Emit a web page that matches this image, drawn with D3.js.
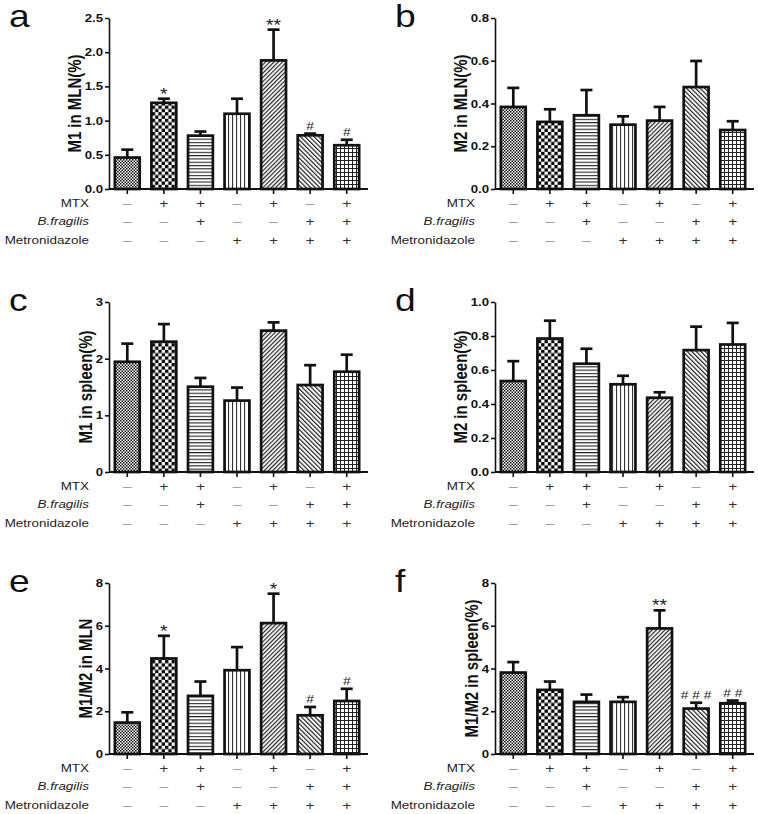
<!DOCTYPE html>
<html><head><meta charset="utf-8">
<script src="https://cdn.jsdelivr.net/npm/d3@7/dist/d3.min.js"></script>
<style>
html,body{margin:0;padding:0;background:#fff;}
svg{display:block;font-family:"Liberation Sans",Arial,sans-serif;}
</style></head>
<body>
<svg id="chart" width="758" height="814"></svg>
<script>
// ---------- DATA ----------
const groups = ["G1","G2","G3","G4","G5","G6","G7"];
const mtx           = ["-","+","+","-","+","-","+"];
const bFragilis     = ["-","-","+","-","-","+","+"];
const metronidazole = ["-","-","-","+","+","+","+"];
const rowLabels = ["MTX","B.fragilis","Metronidazole"];

const aMean = [0.46,1.26,0.78,1.10,1.88,0.785,0.64];
const aErr  = [0.115,0.06,0.06,0.22,0.45,0.025,0.08];
const aSig  = ["","*","","","**","#","#"];
const aTicks = [0,0.5,1.0,1.5,2.0,2.5];

const bMean = [0.384,0.314,0.345,0.301,0.320,0.477,0.276];
const bErr  = [0.089,0.059,0.118,0.039,0.064,0.122,0.041];
const bSig  = ["","","","","","",""];
const bTicks = [0,0.2,0.4,0.6,0.8];

const cMean = [1.945,2.30,1.505,1.26,2.495,1.535,1.77];
const cErr  = [0.32,0.31,0.155,0.23,0.145,0.35,0.30];
const cSig  = ["","","","","","",""];
const cTicks = [0,1,2,3];

const dMean = [0.535,0.785,0.637,0.516,0.437,0.717,0.75];
const dErr  = [0.117,0.105,0.088,0.05,0.032,0.138,0.127];
const dSig  = ["","","","","","",""];
const dTicks = [0,0.2,0.4,0.6,0.8,1.0];

const eMean = [1.47,4.47,2.72,3.92,6.125,1.81,2.48];
const eErr  = [0.48,1.06,0.67,1.08,1.375,0.39,0.57];
const eSig  = ["","*","","","*","#","#"];
const eTicks = [0,2,4,6,8];

const fMean = [3.81,3.0,2.44,2.44,5.875,2.125,2.375];
const fErr  = [0.49,0.39,0.34,0.22,0.845,0.275,0.125];
const fSig  = ["","","","","**","# # #","# #"];
const fTicks = [0,2,4,6,8];

const panels = [
  {letter:"a", ylabel:"M1 in MLN(%)",       mean:aMean, err:aErr, sig:aSig, ticks:aTicks, fmt:".1f", col:0, row:0},
  {letter:"b", ylabel:"M2 in MLN(%)",       mean:bMean, err:bErr, sig:bSig, ticks:bTicks, fmt:".1f", col:1, row:0},
  {letter:"c", ylabel:"M1 in spleen(%)",    mean:cMean, err:cErr, sig:cSig, ticks:cTicks, fmt:"d",   col:0, row:1},
  {letter:"d", ylabel:"M2 in spleen(%)",    mean:dMean, err:dErr, sig:dSig, ticks:dTicks, fmt:".1f", col:1, row:1},
  {letter:"e", ylabel:"M1/M2 in MLN",       mean:eMean, err:eErr, sig:eSig, ticks:eTicks, fmt:"d",   col:0, row:2},
  {letter:"f", ylabel:"M1/M2 in spleen(%)", mean:fMean, err:fErr, sig:fSig, ticks:fTicks, fmt:"d",   col:1, row:2}
];

// ---------- LAYOUT ----------
const colX = [109, 495];
const rowTop = [18, 302, 583];
const rowZero = [189, 472, 754];
const plotW = 256;
const SX = 1.2; // horizontal stretch of text in the reference

const svg = d3.select("#chart");
const defs = svg.append("defs");

function pat(id, w, h, draw, rot){
  const p = defs.append("pattern").attr("id", id).attr("patternUnits","userSpaceOnUse")
    .attr("width", w).attr("height", h);
  if (rot) p.attr("patternTransform", `rotate(${rot})`);
  p.append("rect").attr("width", w).attr("height", h).attr("fill","#fff");
  draw(p);
}
pat("p0", 3, 3, p => {
  p.append("rect").attr("x",0).attr("y",0).attr("width",1.5).attr("height",1.5).attr("fill","#111");
  p.append("rect").attr("x",1.5).attr("y",1.5).attr("width",1.5).attr("height",1.5).attr("fill","#111");
});
pat("p1", 6.6, 6.6, p => {
  p.append("rect").attr("x",0).attr("y",0).attr("width",3.3).attr("height",3.3).attr("fill","#000");
  p.append("rect").attr("x",3.3).attr("y",3.3).attr("width",3.3).attr("height",3.3).attr("fill","#000");
});
pat("p2", 8, 3.3, p => {
  p.append("rect").attr("x",0).attr("y",0).attr("width",8).attr("height",1.1).attr("fill","#222");
});
pat("p3", 4, 8, p => {
  p.append("rect").attr("x",0).attr("y",0).attr("width",1.1).attr("height",8).attr("fill","#333");
});
pat("p4", 3, 8, p => {
  p.append("rect").attr("x",0).attr("y",0).attr("width",1.2).attr("height",8).attr("fill","#222");
}, 45);
pat("p5", 3.2, 8, p => {
  p.append("rect").attr("x",0).attr("y",0).attr("width",1.2).attr("height",8).attr("fill","#222");
}, -45);
pat("p6", 4, 4, p => {
  p.append("rect").attr("x",0).attr("y",0).attr("width",4).attr("height",1).attr("fill","#222");
  p.append("rect").attr("x",0).attr("y",0).attr("width",1).attr("height",4).attr("fill","#222");
});
const fills = groups.map((g,i) => `url(#p${i})`);

function txt(parent, x, y, s){
  return parent.append("text").attr("transform", `translate(${x},${y}) scale(${SX},1)`).text(s);
}

panels.forEach(P => {
  const x0 = colX[P.col], top = rowTop[P.row], zero = rowZero[P.row];
  const g = svg.append("g");
  const x = d3.scaleBand().domain(groups).range([x0, x0 + plotW]).paddingInner(0.32).paddingOuter(0.16);
  const y = d3.scaleLinear().domain([P.ticks[0], P.ticks[P.ticks.length-1]]).range([zero, top]);

  const capW = 12;
  groups.forEach((gr,i) => {
    const cx = x(gr) + x.bandwidth()/2;
    const yt = y(P.mean[i] + P.err[i]);
    g.append("line").attr("x1",cx).attr("x2",cx).attr("y1",y(P.mean[i])).attr("y2",yt)
      .attr("stroke","#111").attr("stroke-width",2.7);
    g.append("line").attr("x1",cx-capW/2).attr("x2",cx+capW/2).attr("y1",yt).attr("y2",yt)
      .attr("stroke","#111").attr("stroke-width",2.7);
  });
  g.selectAll("rect.bar").data(groups).join("rect").attr("class","bar")
    .attr("x", d => x(d)).attr("width", x.bandwidth())
    .attr("y", (d,i) => y(P.mean[i])).attr("height", (d,i) => zero - y(P.mean[i]))
    .attr("fill", (d,i) => fills[i]).attr("stroke","#111").attr("stroke-width",2.7);

  groups.forEach((gr,i) => {
    const s = P.sig[i];
    if (!s) return;
    const cx = x(gr) + x.bandwidth()/2;
    const yt = y(P.mean[i] + P.err[i]);
    const isStar = s.indexOf("*") >= 0;
    txt(g, cx, isStar ? yt + 1 : yt - 3.5, s)
      .attr("text-anchor","middle").attr("fill","#222")
      .attr("font-size", isStar ? 16 : 11.5);
  });

  const yAxis = g.append("g").attr("transform",`translate(${x0},0)`)
    .call(d3.axisLeft(y).tickValues(P.ticks).tickSize(4).tickSizeOuter(0).tickPadding(2).tickFormat(d3.format(P.fmt)));
  yAxis.select(".domain").attr("stroke","#111").attr("stroke-width",1.6);
  yAxis.selectAll(".tick line").attr("stroke","#111").attr("stroke-width",1.6);
  yAxis.selectAll(".tick text").attr("font-size",11).attr("font-weight","bold").attr("fill","#111")
    .attr("font-family","'Liberation Sans',Arial,sans-serif")
    .attr("x", -6 / SX).attr("transform", `scale(${SX},1)`);

  const xAxis = g.append("g").attr("transform",`translate(0,${zero})`)
    .call(d3.axisBottom(x).tickSize(5).tickSizeOuter(0).tickFormat(""));
  xAxis.select(".domain").attr("d", `M${x0},0H${x0 + plotW + 3}`).attr("stroke","#111").attr("stroke-width",1.8);
  xAxis.selectAll(".tick line").attr("stroke","#111").attr("stroke-width",1.6);

  const rows = [mtx, bFragilis, metronidazole];
  const rowDy = [14, 32.5, 51];
  rows.forEach((vals, r) => {
    const ry = zero + rowDy[r];
    txt(g, x0 - 20, ry, rowLabels[r])
      .attr("text-anchor","end").attr("dominant-baseline","central")
      .attr("font-size",11.2).attr("fill","#222")
      .attr("font-style", r === 1 ? "italic" : "normal");
    vals.forEach((v,i) => {
      const cx = x(groups[i]) + x.bandwidth()/2;
      txt(g, cx, ry, v === "+" ? "+" : "\u2013")
        .attr("text-anchor","middle").attr("dominant-baseline","central")
        .attr("font-size",13).attr("fill", v === "+" ? "#333" : "#a0a0a0");
    });
  });

  txt(g, x0 - 100, top + 9, P.letter).attr("font-size",31).attr("fill","#111");

  const bb = yAxis.node().getBBox();
  const lx = x0 + bb.x - 9.5;
  const ly = (top + zero) / 2;
  g.append("text").attr("transform", `translate(${lx},${ly}) rotate(-90) scale(1,${SX})`)
    .attr("text-anchor","middle").attr("dominant-baseline","central")
    .attr("font-size",15).attr("font-weight","bold").attr("fill","#111").text(P.ylabel);
});
</script>
</body></html>
